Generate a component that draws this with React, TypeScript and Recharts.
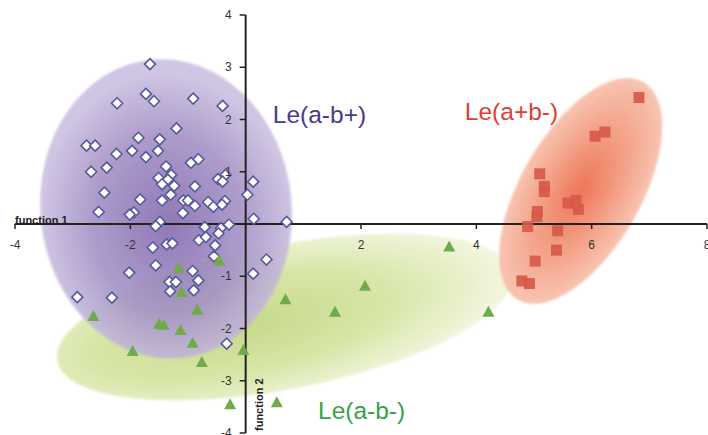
import React from 'react';
import {
  ScatterChart,
  Scatter,
  XAxis,
  YAxis,
  ReferenceArea,
  ReferenceLine,
  ReferenceDot,
} from 'recharts';

// ---- data -------------------------------------------------------------
// Discriminant scores (function 1, function 2) per sample, by phenotype.
const leAminusBplus: [number, number][] = [
  [-1.66, 3.06], [-2.23, 2.31], [-1.73, 2.49], [-1.59, 2.35], [-0.91, 2.4],
  [-0.4, 2.26], [-1.2, 1.83], [-1.86, 1.65], [-1.49, 1.62], [-2.76, 1.5],
  [-2.61, 1.5], [-1.97, 1.4], [-1.52, 1.4], [-2.24, 1.34], [-1.73, 1.28],
  [-0.82, 1.24], [-0.95, 1.17], [-1.38, 1.1], [-2.41, 1.08], [-2.68, 1.0],
  [-0.35, 0.94], [-1.29, 0.94], [-1.51, 0.88], [-1.35, 0.85], [-0.48, 0.86],
  [-0.4, 0.81], [0.13, 0.81], [-1.45, 0.76], [-1.24, 0.73], [-0.88, 0.72],
  [-2.45, 0.6], [-1.3, 0.56], [0.03, 0.56], [-1.83, 0.47], [-1.45, 0.45],
  [-1.08, 0.45], [-1.0, 0.45], [-0.65, 0.42], [-0.36, 0.44], [-0.88, 0.35],
  [-0.56, 0.33], [-0.41, 0.37], [-2.55, 0.23], [-1.94, 0.22], [-2.01, 0.18],
  [-1.09, 0.21], [0.14, 0.1], [0.71, 0.04], [-1.49, 0.04], [-1.56, -0.04],
  [-0.71, -0.06], [-0.29, -0.01], [-0.43, -0.08],
  [-0.81, -0.31], [-0.69, -0.25], [-0.53, -0.41], [-0.47, -0.18],
  [-1.61, -0.45], [-1.37, -0.39], [-1.27, -0.37], [-0.55, -0.62],
  [-1.56, -0.79], [-2.02, -0.93], [-0.92, -0.9], [-1.32, -1.11],
  [-1.21, -1.11], [-0.82, -1.08], [-1.31, -1.29], [-0.9, -1.27],
  [0.36, -0.68], [0.13, -0.95], [-2.92, -1.4], [-2.32, -1.41], [-0.33, -2.29],
];

const leAminusBminus: [number, number][] = [
  [-1.16, -0.85], [-0.46, -0.71], [-1.11, -1.31], [-0.84, -1.65], [0.69, -1.45],
  [-2.64, -1.77], [-1.5, -1.92], [-1.42, -1.94], [-1.13, -2.04], [-0.92, -2.28],
  [-1.96, -2.44], [-0.04, -2.42], [-0.76, -2.65], [-0.27, -3.46], [0.54, -3.42],
  [3.53, -0.44], [2.07, -1.19], [1.55, -1.69], [4.21, -1.69],
];

const leAplusBminus: [number, number][] = [
  [6.82, 2.42], [6.23, 1.76], [6.06, 1.68], [5.1, 0.96], [5.18, 0.72],
  [5.18, 0.62], [5.59, 0.4], [5.73, 0.45], [5.77, 0.28], [5.06, 0.24],
  [5.05, 0.14], [4.89, -0.05], [5.41, -0.13], [5.39, -0.5], [5.02, -0.71],
  [4.79, -1.09], [4.92, -1.14],
];

// Axis ticks
const xTicks = [-4, -2, 2, 4, 6, 8];
const yTicks = [4, 3, 2, 1, -1, -2, -3, -4];

// Group labels: text and anchor point (function 1, function 2)
const groupNames = ['Le(a-b+)', 'Le(a+b-)', 'Le(a-b-)'];
const groupLabelX = [1.28, 4.61, 2.01];
const groupLabelY = [2.1, 2.15, -3.56];

// Group dispersion ellipses: centre, semi-axes (axis units), tilt in degrees
const zoneCentreX = [0.68, -1.38, 5.81];
const zoneCentreY = [-1.78, 0.29, 0.63];
const zoneRadiusX = [4.02, 2.18, 2.18];
const zoneRadiusY = [1.38, 2.87, 1.15];
const zoneTilt = [-11, -6, -60];

// ---- layout -----------------------------------------------------------
const CHART_W = 708;
const CHART_H = 435;
const MARGIN = { top: 15, right: 1, bottom: 1, left: 14 };
const AXIS_BAND = 1; // thin, off-plot band reserved for each axis
const X_DOMAIN: [number, number] = [-4, 8];
const Y_DOMAIN: [number, number] = [-4, 4];
const PLOT_LEFT = MARGIN.left + AXIS_BAND;
const PLOT_W = CHART_W - PLOT_LEFT - MARGIN.right;
const PLOT_H = CHART_H - MARGIN.top - MARGIN.bottom - AXIS_BAND;
// pixel position of the origin, where the axes cross
const X0 = PLOT_LEFT + (PLOT_W * (0 - X_DOMAIN[0])) / (X_DOMAIN[1] - X_DOMAIN[0]);
const Y0 = MARGIN.top + (PLOT_H * (Y_DOMAIN[1] - 0)) / (Y_DOMAIN[1] - Y_DOMAIN[0]);

const FONT = '"Liberation Sans", Arial, Helvetica, sans-serif';
const AXIS_COLOR = '#222';

const toPoints = (arr: [number, number][]) => arr.map(([x, y]) => ({ x, y }));

const XTick = (props: any) => {
  const { x, payload } = props;
  return (
    <g>
      <line x1={x} x2={x} y1={Y0} y2={Y0 + 5} stroke={AXIS_COLOR} strokeWidth={1.5} />
      <text x={x} y={Y0 + 25} textAnchor="middle" fontSize={12} fill="#333" fontFamily={FONT}>
        {payload.value}
      </text>
    </g>
  );
};

const YTick = (props: any) => {
  const { y, payload } = props;
  return (
    <g>
      <line x1={X0 - 6} x2={X0} y1={y} y2={y} stroke={AXIS_COLOR} strokeWidth={1.5} />
      <text x={X0 - 14} y={y + 4} textAnchor="end" fontSize={12} fill="#333" fontFamily={FONT}>
        {payload.value}
      </text>
    </g>
  );
};

const Diamond = (props: any) => {
  const { cx, cy } = props;
  const r = 5.5;
  return (
    <path
      d={`M${cx},${cy - r}L${cx + r},${cy}L${cx},${cy + r}L${cx - r},${cy}Z`}
      fill="#ffffff"
      stroke="#56599c"
      strokeWidth={1.6}
    />
  );
};

const Triangle = (props: any) => {
  const { cx, cy } = props;
  return (
    <path
      d={`M${cx},${cy - 6.5}L${cx + 6},${cy + 4.5}L${cx - 6},${cy + 4.5}Z`}
      fill="#6fab4a"
    />
  );
};

const Square = (props: any) => {
  const { cx, cy } = props;
  const h = 5.5;
  return <rect x={cx - h} y={cy - h} width={2 * h} height={2 * h} fill="#d7594a" fillOpacity={0.92} />;
};

const zoneFills = ['url(#zoneGreen)', 'url(#zonePurple)', 'url(#zoneRed)'];
const zoneOpacity = [1, 0.9, 0.95];

const makeEllipse = (i: number) => (props: any) => {
  const { x, y, width, height } = props;
  const w = Math.abs(width);
  const h = Math.abs(height);
  const cx = x + width / 2;
  const cy = y + height / 2;
  return (
    <ellipse
      cx={cx}
      cy={cy}
      rx={w / 2}
      ry={h / 2}
      transform={`rotate(${zoneTilt[i]} ${cx} ${cy})`}
      fill={zoneFills[i]}
      opacity={zoneOpacity[i]}
      filter="url(#softEdge)"
    />
  );
};

const labelColors = ['#4a3b8c', '#dc4035', '#36a24c'];

export default function App() {
  return (
    <div style={{ position: 'absolute', left: 0, top: 0, width: CHART_W, height: CHART_H, background: '#fff', fontFamily: FONT }}>
      <ScatterChart width={CHART_W} height={CHART_H} margin={MARGIN}>
        <defs>
          <filter id="softEdge" x="-10%" y="-10%" width="120%" height="120%">
            <feGaussianBlur stdDeviation="1.2" />
          </filter>
          <radialGradient id="zonePurple" cx="0.5" cy="0.55" r="0.5">
            <stop offset="0%" stopColor="#856bb0" />
            <stop offset="60%" stopColor="#a592c6" />
            <stop offset="100%" stopColor="#cbbfe0" />
          </radialGradient>
          <radialGradient id="zoneGreen" cx="0.4" cy="0.5" r="0.6">
            <stop offset="0%" stopColor="#c6d98a" />
            <stop offset="55%" stopColor="#d8e6a8" />
            <stop offset="100%" stopColor="#f3f7e2" />
          </radialGradient>
          <radialGradient id="zoneRed" cx="0.5" cy="0.5" r="0.5">
            <stop offset="0%" stopColor="#ee6e50" />
            <stop offset="55%" stopColor="#f39d82" />
            <stop offset="100%" stopColor="#f8c2ae" />
          </radialGradient>
        </defs>

        <XAxis
          type="number"
          dataKey="x"
          domain={X_DOMAIN}
          ticks={xTicks}
          interval={0}
          axisLine={false}
          tickLine={false}
          tick={(p: any) => <XTick {...p} />}
          height={AXIS_BAND}
          allowDataOverflow
        />
        <YAxis
          type="number"
          dataKey="y"
          domain={Y_DOMAIN}
          ticks={yTicks}
          interval={0}
          axisLine={false}
          tickLine={false}
          tick={(p: any) => <YTick {...p} />}
          width={AXIS_BAND}
          allowDataOverflow
        />

        {zoneCentreX.map((cx, i) => (
          <ReferenceArea
            key={`zone-${i}`}
            x1={cx - zoneRadiusX[i]}
            x2={cx + zoneRadiusX[i]}
            y1={zoneCentreY[i] - zoneRadiusY[i]}
            y2={zoneCentreY[i] + zoneRadiusY[i]}
            shape={makeEllipse(i)}
          />
        ))}

        <ReferenceLine y={0} stroke={AXIS_COLOR} strokeWidth={2} />
        <ReferenceLine x={0} stroke={AXIS_COLOR} strokeWidth={2} />

        <Scatter name="Le(a-b+)" data={toPoints(leAminusBplus)} shape={Diamond} isAnimationActive={false} />
        <Scatter name="Le(a-b-)" data={toPoints(leAminusBminus)} shape={Triangle} isAnimationActive={false} />
        <Scatter name="Le(a+b-)" data={toPoints(leAplusBminus)} shape={Square} isAnimationActive={false} />

        {groupNames.map((name, i) => (
          <ReferenceDot
            key={name}
            x={groupLabelX[i]}
            y={groupLabelY[i]}
            r={0}
            fill="none"
            stroke="none"
            label={{ value: name, position: 'center', fill: labelColors[i], fontSize: 24.5, fontFamily: FONT }}
          />
        ))}

        <ReferenceDot
          x={X_DOMAIN[0]}
          y={0}
          r={0}
          fill="none"
          stroke="none"
          label={{ value: 'function 1', position: 'insideBottomLeft', fill: '#222', fontSize: 11, fontWeight: 'bold', fontFamily: FONT, offset: 0 }}
        />
      </ScatterChart>
      <svg
        width={CHART_W}
        height={CHART_H}
        style={{ position: 'absolute', left: 0, top: 0, pointerEvents: 'none' }}
      >
        <text
          transform={`translate(${X0 + 17}, ${CHART_H - 4}) rotate(-90)`}
          fontSize={11}
          fontWeight="bold"
          fill="#222"
          fontFamily={FONT}
        >
          function 2
        </text>
      </svg>
    </div>
  );
}
